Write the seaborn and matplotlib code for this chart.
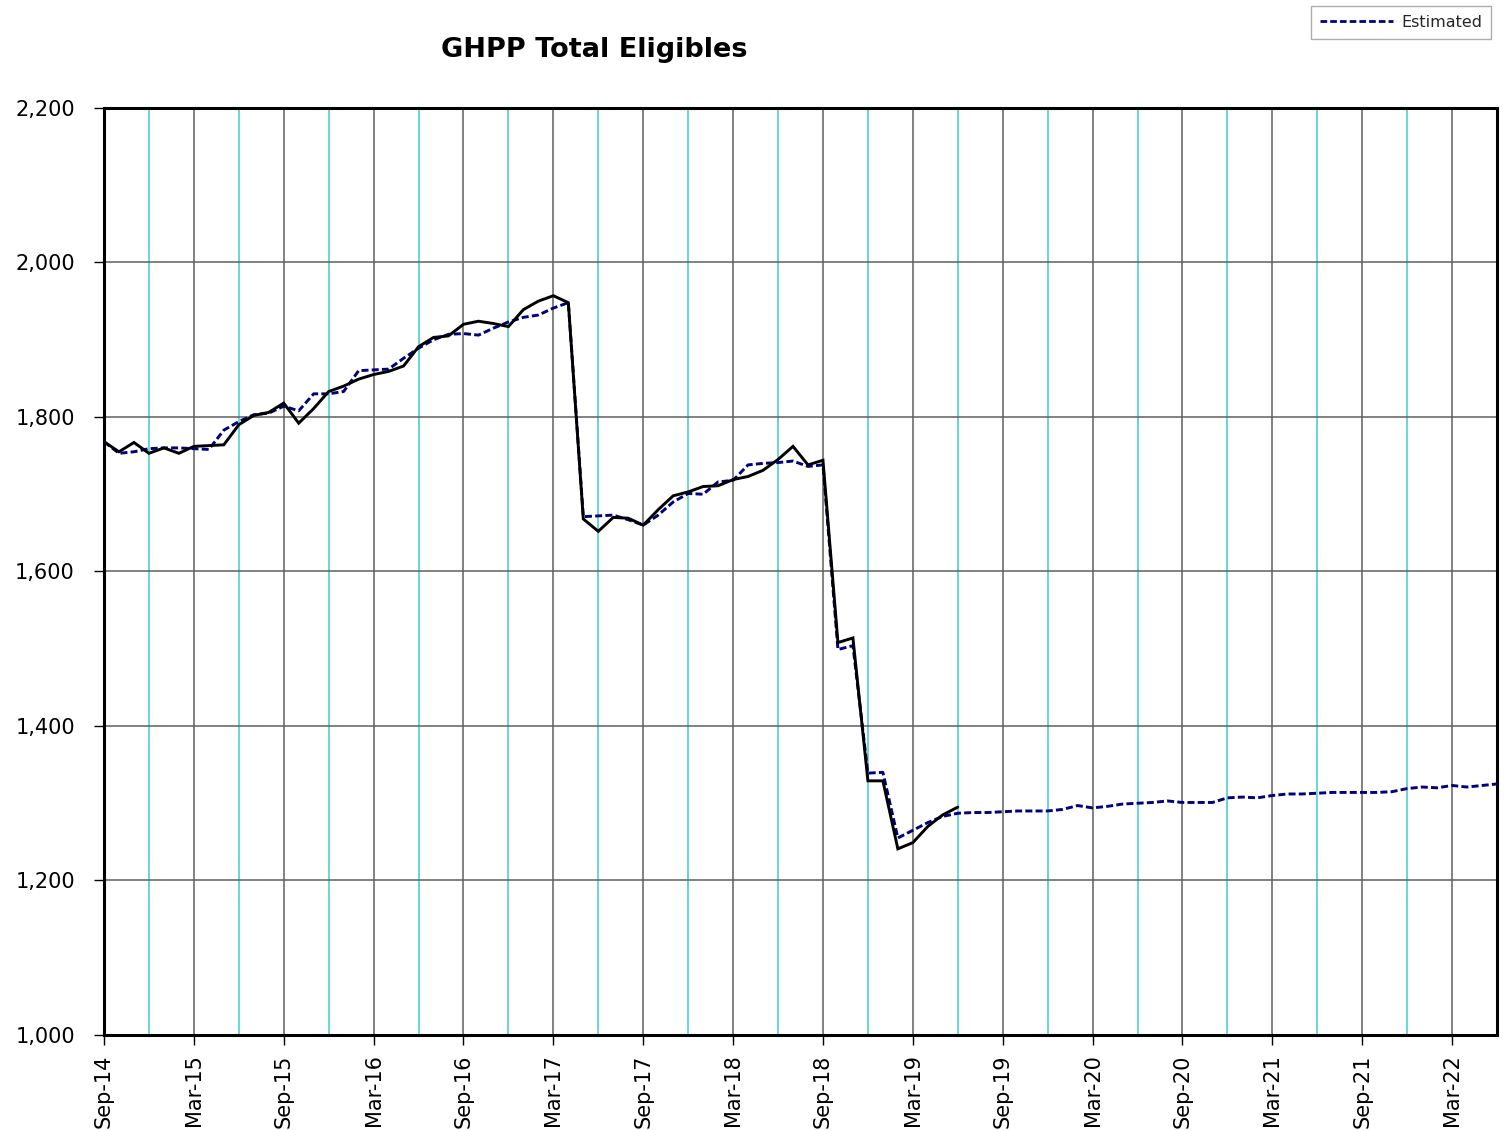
import matplotlib
matplotlib.use("Agg")
import matplotlib.pyplot as plt
import seaborn as sns
import pandas as pd
from matplotlib.lines import Line2D

# ---- data ----
tick_labels = ["Sep-14", "Mar-15", "Sep-15", "Mar-16", "Sep-16", "Mar-17", "Sep-17", "Mar-18",
               "Sep-18", "Mar-19", "Sep-19", "Mar-20", "Sep-20", "Mar-21", "Sep-21", "Mar-22"]

actual = [1768, 1755, 1767, 1753, 1760, 1753, 1762, 1763, 1764, 1790,
          1802, 1806, 1818, 1792, 1811, 1833, 1840, 1849, 1855, 1859,
          1866, 1891, 1903, 1905, 1920, 1924, 1921, 1917, 1939, 1950,
          1957, 1948, 1668, 1652, 1670, 1669, 1660, 1680, 1698, 1703,
          1710, 1711, 1719, 1723, 1731, 1745, 1762, 1738, 1744, 1508,
          1514, 1329, 1329, 1241, 1249, 1270, 1285, 1295]

estimated = [1768, 1753, 1755, 1759, 1760, 1760, 1759, 1758, 1783, 1794,
             1803, 1805, 1814, 1808, 1830, 1830, 1833, 1860, 1861, 1862,
             1876, 1889, 1900, 1907, 1908, 1906, 1915, 1923, 1929, 1932,
             1941, 1948, 1671, 1672, 1673, 1667, 1660, 1673, 1690, 1701,
             1700, 1716, 1718, 1738, 1740, 1741, 1743, 1736, 1738, 1499,
             1504, 1339, 1340, 1255, 1265, 1275, 1283, 1287, 1288, 1288,
             1289, 1290, 1290, 1290, 1292, 1297, 1294, 1296, 1299, 1300,
             1301, 1303, 1301, 1301, 1301, 1307, 1308, 1307, 1310, 1312,
             1312, 1313, 1314, 1314, 1314, 1314, 1315, 1319, 1321, 1320,
             1323, 1321, 1323, 1325]

df = pd.concat([
    pd.DataFrame({"month": range(len(estimated)), "value": estimated, "series": "Estimated"}),
    pd.DataFrame({"month": range(len(actual)), "value": actual, "series": "Actual"}),
], ignore_index=True)

# ---- plot ----
sns.set_theme(style="white")
plt.rcParams["font.family"] = ["DejaVu Sans"]

fig = plt.figure(figsize=(15.07, 11.30), dpi=100)
ax = fig.add_axes([104 / 1507, 1 - 1035 / 1130, (1497 - 104) / 1507, (1035 - 108) / 1130])

navy = "#000080"
sns.lineplot(data=df, x="month", y="value", hue="series", style="series",
             hue_order=["Estimated", "Actual"], style_order=["Estimated", "Actual"],
             palette={"Estimated": navy, "Actual": "black"},
             dashes={"Estimated": (2.4, 1.1), "Actual": ""},
             linewidth=2.1, legend=False, ax=ax, zorder=3)
for ln in ax.get_lines():
    ln.set_solid_joinstyle("miter")
    ln.set_dash_capstyle("butt")

ax.set_xlim(0, 93)
ax.set_ylim(1000, 2200)

ax.set_xticks(range(0, 91, 6))
ax.set_xticklabels(tick_labels, rotation=90, fontsize=15)
ax.set_xticks(range(3, 93, 6), minor=True)
ax.set_yticks(range(1000, 2201, 200))
ax.set_yticklabels([f"{v:,}" for v in range(1000, 2201, 200)], fontsize=15)

ax.grid(True, which="major", axis="both", color="#5f5f5f", linewidth=1.1)
ax.grid(True, which="minor", axis="x", color="#40cccc", linewidth=1.1)
ax.set_axisbelow(True)

ax.tick_params(axis="both", which="major", direction="out", length=7, width=1,
               color="black", bottom=True, left=True, labelcolor="black")
ax.tick_params(axis="x", which="major", pad=7)
ax.tick_params(axis="y", which="major", pad=14)
ax.tick_params(axis="x", which="minor", length=0)

for s in ax.spines.values():
    s.set_color("black")
    s.set_linewidth(2.2)
    s.set_visible(True)

ax.set_xlabel("")
ax.set_ylabel("")

fig.text(594 / 1507, 1 - 50 / 1130, "GHPP Total Eligibles", ha="center", va="center",
         fontsize=19.5, fontweight="bold", color="black")

handle = Line2D([], [], color=navy, linewidth=2.0, linestyle=(0, (2.4, 1.1)))
leg = fig.legend([handle], ["Estimated"], loc="upper left",
                 bbox_to_anchor=(1311 / 1507, 1 - 6 / 1130), frameon=True, fancybox=False,
                 edgecolor="#999999", fontsize=11.5, handlelength=4.6, handletextpad=0.5,
                 borderpad=0.55, borderaxespad=0)
leg.get_frame().set_linewidth(1.0)

fig.savefig("out.png", dpi=100, facecolor="white")
